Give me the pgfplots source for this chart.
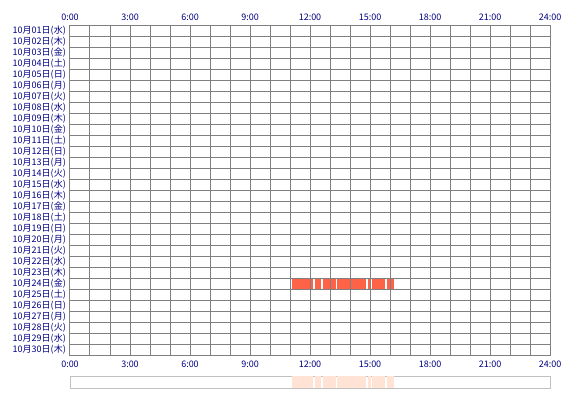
\documentclass[border=0pt]{standalone}
\usepackage{pgfplots}
\pgfplotsset{compat=1.18}
\usepackage{fontspec}
\setmainfont{Noto Sans CJK JP}
\definecolor{lbl}{HTML}{000080}
\definecolor{gridc}{HTML}{808080}
\definecolor{barc}{HTML}{FF6347}
\definecolor{stripc}{HTML}{FFE4D6}
\definecolor{stripb}{HTML}{C0C0C0}
\begin{document}
\begin{tikzpicture}
\path[use as bounding box] (0,0) rectangle (570pt,400pt);
% main grid axis
\begin{axis}[
  at={(70pt,45pt)}, anchor=south west,
  scale only axis, width=480pt, height=330pt,
  xmin=0, xmax=24, ymin=0, ymax=30, y dir=reverse,
  axis on top,
  xtick={0,3,...,24},
  xticklabels={0:00,3:00,6:00,9:00,12:00,15:00,18:00,21:00,24:00},
  minor x tick num=2,
  ytick={0.5,1.5,...,29.5},
  minor y tick num=1,
  yticklabels={10月01日(水),10月02日(木),10月03日(金),10月04日(土),10月05日(日),10月06日(月),10月07日(火),10月08日(水),10月09日(木),10月10日(金),10月11日(土),10月12日(日),10月13日(月),10月14日(火),10月15日(水),10月16日(木),10月17日(金),10月18日(土),10月19日(日),10月20日(月),10月21日(火),10月22日(水),10月23日(木),10月24日(金),10月25日(土),10月26日(日),10月27日(月),10月28日(火),10月29日(水),10月30日(木)},
  xmajorgrids, xminorgrids, yminorgrids, ymajorgrids=false,
  grid style={gridc, line width=1pt},
  minor grid style={gridc, line width=1pt},
  axis line style={gridc, line width=1pt},
  major tick length=0pt, minor tick length=0pt,
  tick style={draw=none},
  ticklabel style={font=\fontsize{9}{10}\selectfont, text=lbl},
  yticklabel style={inner sep=1pt, xshift=-3pt},
  xticklabel style={yshift=-2pt},
]
\addplot[fill=barc, draw=none] coordinates {(11.1,23) (12.15,23) (12.15,24) (11.1,24)} -- cycle;
\addplot[fill=barc, draw=none] coordinates {(12.25,23) (12.55,23) (12.55,24) (12.25,24)} -- cycle;
\addplot[fill=barc, draw=none] coordinates {(12.65,23) (13.3,23) (13.3,24) (12.65,24)} -- cycle;
\addplot[fill=barc, draw=none] coordinates {(13.35,23) (14.8,23) (14.8,24) (13.35,24)} -- cycle;
\addplot[fill=barc, draw=none] coordinates {(14.9,23) (15.05,23) (15.05,24) (14.9,24)} -- cycle;
\addplot[fill=barc, draw=none] coordinates {(15.1,23) (15.75,23) (15.75,24) (15.1,24)} -- cycle;
\addplot[fill=barc, draw=none] coordinates {(15.85,23) (16.2,23) (16.2,24) (15.85,24)} -- cycle;
\end{axis}
% top labels
\begin{axis}[
  at={(70pt,45pt)}, anchor=south west,
  scale only axis, width=480pt, height=330pt,
  xmin=0, xmax=24, ymin=0, ymax=30,
  axis line style={draw=none},
  xtick={0,3,...,24},
  xticklabels={0:00,3:00,6:00,9:00,12:00,15:00,18:00,21:00,24:00},
  xticklabel pos=upper,
  ytick=\empty,
  major tick length=0pt, tick style={draw=none},
  ticklabel style={font=\fontsize{9}{10}\selectfont, text=lbl},
  xticklabel style={yshift=1pt},
]
\end{axis}
% bottom strip
\begin{axis}[
  at={(70pt,12pt)}, anchor=south west,
  scale only axis, width=480pt, height=12pt,
  xmin=0, xmax=24, ymin=0, ymax=1,
  axis line style={stripb, line width=1pt},
  xtick=\empty, ytick=\empty,
]
\addplot[fill=stripc, draw=none] coordinates {(11.1,0) (12.15,0) (12.15,1) (11.1,1)} -- cycle;
\addplot[fill=stripc, draw=none] coordinates {(12.25,0) (12.55,0) (12.55,1) (12.25,1)} -- cycle;
\addplot[fill=stripc, draw=none] coordinates {(12.65,0) (13.3,0) (13.3,1) (12.65,1)} -- cycle;
\addplot[fill=stripc, draw=none] coordinates {(13.35,0) (14.8,0) (14.8,1) (13.35,1)} -- cycle;
\addplot[fill=stripc, draw=none] coordinates {(14.9,0) (15.05,0) (15.05,1) (14.9,1)} -- cycle;
\addplot[fill=stripc, draw=none] coordinates {(15.1,0) (15.75,0) (15.75,1) (15.1,1)} -- cycle;
\addplot[fill=stripc, draw=none] coordinates {(15.85,0) (16.2,0) (16.2,1) (15.85,1)} -- cycle;
\end{axis}
\end{tikzpicture}
\end{document}
